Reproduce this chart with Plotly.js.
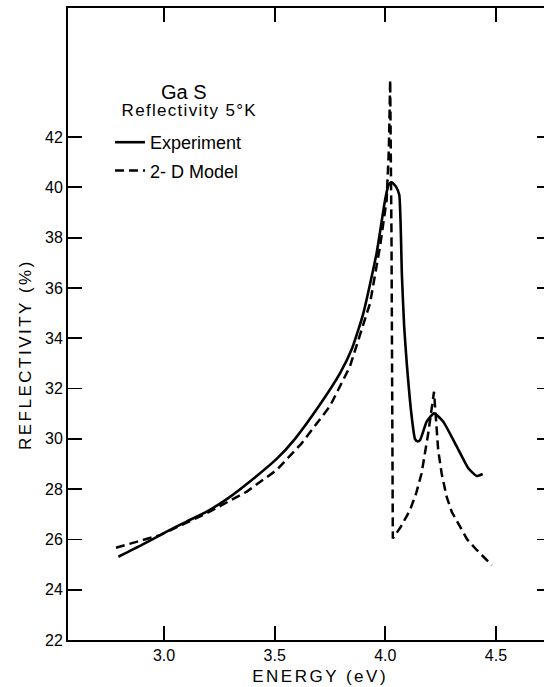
<!DOCTYPE html>
<html>
<head>
<meta charset="utf-8">
<script src="https://cdn.plot.ly/plotly-3.0.1.min.js"></script>
<style>
  html, body { margin: 0; padding: 0; overflow: hidden; background: #fff; }
  #chart { width: 553px; height: 687px; }
</style>
</head>
<body>
<div id="chart"></div>
<script>
// Experiment (solid)
const expEnergy = [2.794, 2.9, 3.012, 3.1, 3.193, 3.3, 3.374, 3.509, 3.592, 3.7, 3.795, 3.85, 3.901, 3.961, 3.999, 4.015, 4.029, 4.05, 4.063, 4.075, 4.085, 4.097, 4.119, 4.134, 4.145, 4.157, 4.187, 4.22, 4.262, 4.323, 4.375, 4.413, 4.44];
const expRefl   = [25.31, 25.78, 26.31, 26.7, 27.1, 27.7, 28.2, 29.2, 30.0, 31.3, 32.6, 33.6, 35.0, 37.4, 39.5, 40.1, 40.2, 40.0, 39.7, 36.5, 34.5, 33.0, 30.9, 30.0, 29.9, 29.95, 30.68, 31.01, 30.68, 29.69, 28.83, 28.52, 28.6];
// 2-D Model (dashed)
const modEnergy = [2.783, 2.982, 3.193, 3.374, 3.509, 3.62, 3.75, 3.84, 3.931, 3.976, 4.006, 4.016, 4.022, 4.028, 4.034, 4.07, 4.112, 4.14, 4.164, 4.194, 4.22, 4.23, 4.239, 4.255, 4.277, 4.3, 4.338, 4.37, 4.413, 4.45, 4.481];
const modRefl   = [25.67, 26.17, 27.04, 27.9, 28.76, 29.8, 31.3, 32.87, 35.39, 37.64, 39.5, 41.5, 44.27, 38.0, 26.04, 26.5, 27.17, 27.85, 28.63, 30.22, 31.87, 30.5, 29.55, 28.6, 27.7, 27.1, 26.5, 26.0, 25.58, 25.25, 24.98];
const xTickVals = [3.0, 3.5, 4.0, 4.5];
const xTickText = ['3.0', '3.5', '4.0', '4.5'];
const yTickVals = [22, 24, 26, 28, 30, 32, 34, 36, 38, 40, 42];
const yTickText = ['22', '24', '26', '28', '30', '32', '34', '36', '38', '40', '42'];

const FONT = '"Liberation Sans", Arial, sans-serif';

const traces = [
  { x: expEnergy, y: expRefl, name: 'Experiment', type: 'scatter', mode: 'lines',
    line: { color: '#000', width: 2.6, shape: 'spline', smoothing: 0.5 }, legendgroup: 'a' },
  { x: modEnergy, y: modRefl, name: '2- D Model', type: 'scatter', mode: 'lines',
    line: { color: '#000', width: 2.5, dash: '9px,5px' }, legendgroup: 'b' }
];

const axisCommon = {
  showline: true, linecolor: '#000', linewidth: 2, mirror: 'ticks',
  ticks: 'inside', ticklen: 14, tickwidth: 1.8, tickcolor: '#000',
  showgrid: false, zeroline: false,
  tickfont: { family: FONT, size: 16, color: '#000' }
};

const layout = {
  width: 553, height: 687,
  margin: { l: 68, r: 2, t: 8, b: 47 },
  paper_bgcolor: '#fff', plot_bgcolor: '#fff',
  font: { family: FONT, color: '#000' },
  xaxis: Object.assign({}, axisCommon, {
    range: [2.5662, 4.7487], tickmode: 'array', tickvals: xTickVals, ticktext: xTickText
  }),
  yaxis: Object.assign({}, axisCommon, {
    range: [22, 47.13], tickmode: 'array', tickvals: yTickVals, ticktext: yTickText
  }),
  showlegend: true,
  legend: {
    x: 0.087, y: (640 - 124) / 632, xanchor: 'left', yanchor: 'top',
    bgcolor: 'rgba(0,0,0,0)', borderwidth: 0,
    font: { family: FONT, size: 18, color: '#000' },
    itemwidth: 30, tracegroupgap: 2
  },
  annotations: [
    { text: 'Ga S', xref: 'paper', yref: 'paper', x: (184 - 68) / 483, y: (640 - 92) / 632,
      showarrow: false, font: { family: FONT, size: 20 }, xanchor: 'center', yanchor: 'middle' },
    { text: 'Reflectivity 5°K', xref: 'paper', yref: 'paper', x: (189 - 68) / 483, y: (640 - 111) / 632,
      showarrow: false, font: { family: FONT, size: 17 }, xanchor: 'center', yanchor: 'middle' },
    { text: 'ENERGY (eV)', xref: 'paper', yref: 'paper', x: (320 - 68) / 483, y: (640 - 676) / 632,
      showarrow: false, font: { family: FONT, size: 17 }, xanchor: 'center', yanchor: 'middle' },
    { text: 'REFLECTIVITY (%)', xref: 'paper', yref: 'paper', x: (25 - 68) / 483, y: (640 - 355) / 632,
      showarrow: false, textangle: -90, font: { family: FONT, size: 17 }, xanchor: 'center', yanchor: 'middle' }
  ]
};

Plotly.newPlot('chart', traces, layout, { displayModeBar: false, staticPlot: true }).then(function () {
  document.querySelectorAll('.annotation-text').forEach(function (t) {
    const s = t.textContent;
    if (s === 'ENERGY (eV)' || s === 'REFLECTIVITY (%)') t.style.letterSpacing = '2.5px';
    if (s === 'Reflectivity 5°K') t.style.letterSpacing = '1.3px';
  });
});
</script>
</body>
</html>
